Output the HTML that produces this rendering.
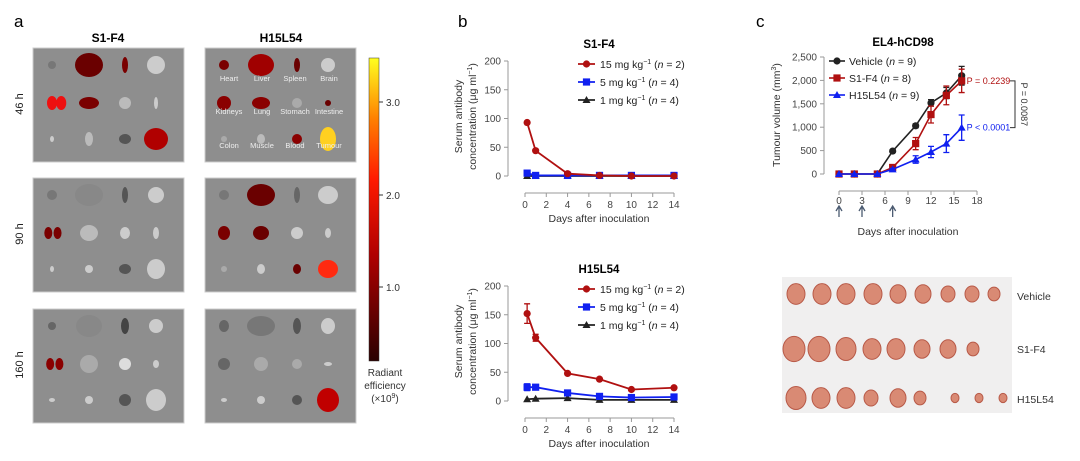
<!DOCTYPE html>
<html><head><meta charset="utf-8"><style>
html,body{margin:0;padding:0;background:#fff;}
svg{display:block;font-family:"Liberation Sans",Arial,sans-serif;}
</style></head><body>
<svg id="fig" width="1080" height="461" viewBox="0 0 1080 461" xmlns="http://www.w3.org/2000/svg">
<defs>
<linearGradient id="cb" x1="0" y1="1" x2="0" y2="0">
<stop offset="0" stop-color="#2a0000"/><stop offset="0.35" stop-color="#b00000"/><stop offset="0.6" stop-color="#ff1a00"/><stop offset="0.8" stop-color="#ff8000"/><stop offset="1" stop-color="#ffff20"/>
</linearGradient>
</defs>
<text x="14" y="27" font-size="17">a</text>
<text x="458" y="27" font-size="17">b</text>
<text x="756" y="27" font-size="17">c</text>
<text x="108" y="42" font-size="12" font-weight="bold" text-anchor="middle">S1-F4</text>
<text x="281" y="42" font-size="12" font-weight="bold" text-anchor="middle">H15L54</text>
<g id="imgs"></g>
<g font-size="11" fill="#222">
<text transform="translate(23,104) rotate(-90)" text-anchor="middle">46 h</text>
<text transform="translate(23,234) rotate(-90)" text-anchor="middle">90 h</text>
<text transform="translate(23,365) rotate(-90)" text-anchor="middle">160 h</text>
</g>
<rect x="369" y="58" width="10" height="303" fill="url(#cb)" stroke="#333" stroke-width="0.5"/>
<g font-size="10" fill="#333">
<line x1="379" y1="102" x2="383" y2="102" stroke="#333"/><text x="386" y="106">3.0</text>
<line x1="379" y1="195" x2="383" y2="195" stroke="#333"/><text x="386" y="199">2.0</text>
<line x1="379" y1="287" x2="383" y2="287" stroke="#333"/><text x="386" y="291">1.0</text>
</g>
<g font-size="10" fill="#333" text-anchor="middle">
<text x="385" y="376">Radiant</text><text x="385" y="389">efficiency</text><text x="385" y="402">(×10<tspan font-size="7" dy="-4">9</tspan><tspan dy="4">)</tspan></text>
</g>
<g id="charts"></g>
<g id="photo"></g>
<g font-size="10.5" fill="#333">
<text x="1017" y="300">Vehicle</text>
<text x="1017" y="353">S1-F4</text>
<text x="1017" y="403">H15L54</text>
</g>
</svg>
<script>
// ---------- Panel b data ----------
const bDays = [0.2, 1, 4, 7, 10, 14];
const bTopHigh = [93, 44, 4, 1, 0, 0];
const bTopMid = [5, 1, 1, 1, 1, 1];
const bTopLow = [0, 0, 0, 0, 0, 0];
const bBotHigh = [152, 110, 48, 38, 20, 23];
const bBotHighErr = [17, 6, 2, 2, 2, 2];
const bBotMid = [24, 24, 14, 8, 6, 7];
const bBotMidErr = [6, 3, 2, 2, 2, 2];
const bBotLow = [3, 4, 5, 2, 2, 2];
const bYTicks = [0, 50, 100, 150, 200];
const bXTicks = [0, 2, 4, 6, 8, 10, 12, 14];
const bLegend = ["15 mg kg", "5 mg kg", "1 mg kg"];
const bLegendN = ["2", "4", "4"];
// ---------- Panel c data ----------
const cDays = [0, 2, 5, 7, 10, 12, 14, 16];
const cVehicle = [0, 0, 0, 490, 1030, 1520, 1730, 2100];
const cVehicleErr = [0, 0, 0, 30, 40, 70, 120, 200];
const cS1F4 = [0, 0, 0, 140, 650, 1270, 1680, 1990];
const cS1F4Err = [0, 0, 0, 40, 130, 180, 200, 250];
const cH15 = [0, 0, 0, 100, 310, 470, 650, 990];
const cH15Err = [0, 0, 0, 20, 80, 120, 190, 270];
const cYTicks = [0, 500, 1000, 1500, 2000, 2500];
const cYTickLabels = ["0", "500", "1,000", "1,500", "2,000", "2,500"];
const cXTicks = [0, 3, 6, 9, 12, 15, 18];
const cLegend = ["Vehicle", "S1-F4", "H15L54"];
const cLegendN = ["9", "8", "9"];
const cDosing = [0, 3, 7];

const NS = "http://www.w3.org/2000/svg";
function mk(tag, attrs, parent, txt) {
  const e = document.createElementNS(NS, tag);
  for (const k in attrs) e.setAttribute(k, attrs[k]);
  if (txt !== undefined) e.textContent = txt;
  parent.appendChild(e);
  return e;
}
const RED = "#b01010", BLUE = "#1020f0", BLK = "#222";
function marker(g, shape, x, y, col) {
  let m;
  if (shape === "c") m = mk("circle", {cx: x, cy: y, r: 3.6, fill: col}, g);
  else if (shape === "s") m = mk("rect", {x: x - 3.6, y: y - 3.6, width: 7.2, height: 7.2, fill: col}, g);
  else m = mk("polygon", {points: `${x},${y - 4} ${x - 4},${y + 3} ${x + 4},${y + 3}`, fill: col}, g);
  return m;
}
const charts = document.getElementById("charts");

function panelB(title, top, series) {
  const g = mk("g", {}, charts);
  
  
  const x0 = 525, x1 = 674, y0 = top + 115, y1 = top;
  const sx = d => x0 + (d / 14) * (x1 - x0);
  const sy = v => y0 - (v / 200) * (y0 - y1);
  const t = mk("text", {x: 599, y: top - 13, "font-size": 11.5, "font-weight": "bold", "text-anchor": "middle"}, g, title);
  
  
  const ya = mk("g", {"font-size": 10, fill: "#444"}, g);
  
  
  mk("line", {x1: 508, y1: sy(0), x2: 508, y2: sy(200), stroke: "#999"}, ya);
  bYTicks.forEach(v => {
    mk("line", {x1: 504, y1: sy(v), x2: 508, y2: sy(v), stroke: "#999"}, ya);
    mk("text", {x: 501, y: sy(v) + 3.5, "text-anchor": "end"}, ya, v);
  });
  const yt = mk("text", {transform: `translate(462,${(y0 + y1) / 2 - 2}) rotate(-90)`, "font-size": 10.5, fill: "#333", "text-anchor": "middle"}, g);
  
  
  mk("tspan", {x: 0, dy: 0}, yt, "Serum antibody");
  mk("tspan", {x: 0, dy: 14}, yt, "concentration (μg ml");
  mk("tspan", {dy: -4, "font-size": 7}, yt, "−1");
  mk("tspan", {dy: 4}, yt, ")");
  const xa = mk("g", {"font-size": 10, fill: "#444"}, g);
  
  
  const ax = y0 + 17;
  mk("line", {x1: sx(0), y1: ax, x2: sx(14), y2: ax, stroke: "#999"}, xa);
  bXTicks.forEach(d => {
    mk("line", {x1: sx(d), y1: ax, x2: sx(d), y2: ax + 4, stroke: "#999"}, xa);
    mk("text", {x: sx(d), y: ax + 15, "text-anchor": "middle"}, xa, d);
  });
  const xt = mk("text", {x: 599, y: ax + 29, "font-size": 10.5, fill: "#333", "text-anchor": "middle"}, g, "Days after inoculation");
  
  
  series.slice().reverse().forEach(s => {
    const sg = mk("g", {}, g);
    
    
    mk("polyline", {points: bDays.map((d, i) => sx(d) + "," + sy(s.v[i])).join(" "), fill: "none", stroke: s.col, "stroke-width": 1.8}, sg);
    bDays.forEach((d, i) => {
      if (s.e && s.e[i] > 2) {
        const x = sx(d);
        mk("path", {d: `M${x},${sy(s.v[i] - s.e[i])}V${sy(s.v[i] + s.e[i])}M${x - 3},${sy(s.v[i] + s.e[i])}h6M${x - 3},${sy(s.v[i] - s.e[i])}h6`, stroke: s.col, "stroke-width": 1.3, fill: "none"}, sg);
      }
      const m = marker(sg, s.shape, sx(d), sy(s.v[i]), s.col);
      
      
    });
  });
  series.forEach((s, i) => {
    const ly = top + 3 + i * 18;
    const lg = mk("g", {"font-size": 10.5, fill: "#222"}, g);
    
    
    mk("line", {x1: 578, y1: ly, x2: 595, y2: ly, stroke: s.col, "stroke-width": 1.8}, lg);
    marker(lg, s.shape, 586.5, ly, s.col);
    const tx = mk("text", {x: 600, y: ly + 4}, lg, bLegend[i]);
    mk("tspan", {dy: -4, "font-size": 7}, tx, "−1");
    mk("tspan", {dy: 4}, tx, " (");
    mk("tspan", {"font-style": "italic"}, tx, "n");
    mk("tspan", {}, tx, " = " + bLegendN[i] + ")");
  });
}
panelB("S1-F4", 61, [
  {key: "15mg", v: bTopHigh, col: RED, shape: "c"},
  {key: "5mg", v: bTopMid, col: BLUE, shape: "s"},
  {key: "1mg", v: bTopLow, col: BLK, shape: "t"}]);
panelB("H15L54", 286, [
  {key: "15mg", v: bBotHigh, e: bBotHighErr, col: RED, shape: "c"},
  {key: "5mg", v: bBotMid, e: bBotMidErr, col: BLUE, shape: "s"},
  {key: "1mg", v: bBotLow, col: BLK, shape: "t"}]);

// ---------- Panel c ----------
(function () {
  const g = mk("g", {}, charts);
  
  
  const x0 = 839, x1 = 977, y0 = 174, y1 = 57;
  const sx = d => x0 + (d / 18) * (x1 - x0);
  const sy = v => y0 - (v / 2500) * (y0 - y1);
  const t = mk("text", {x: 903, y: 46, "font-size": 11.5, "font-weight": "bold", "text-anchor": "middle"}, g, "EL4-hCD98");
  
  
  const ya = mk("g", {"font-size": 10, fill: "#444"}, g);
  
  
  mk("line", {x1: 824, y1: sy(0), x2: 824, y2: sy(2500), stroke: "#999"}, ya);
  cYTicks.forEach((v, i) => {
    mk("line", {x1: 820, y1: sy(v), x2: 824, y2: sy(v), stroke: "#999"}, ya);
    mk("text", {x: 817, y: sy(v) + 3.5, "text-anchor": "end"}, ya, cYTickLabels[i]);
  });
  const yt = mk("text", {transform: `translate(780,115) rotate(-90)`, "font-size": 10.5, fill: "#333", "text-anchor": "middle"}, g, "Tumour volume (mm");
  
  
  mk("tspan", {dy: -4, "font-size": 7}, yt, "3");
  mk("tspan", {dy: 4}, yt, ")");
  const xa = mk("g", {"font-size": 10, fill: "#444"}, g);
  
  
  const ax = 191;
  mk("line", {x1: sx(0), y1: ax, x2: sx(18), y2: ax, stroke: "#999"}, xa);
  cXTicks.forEach(d => {
    mk("line", {x1: sx(d), y1: ax, x2: sx(d), y2: ax + 4, stroke: "#999"}, xa);
    mk("text", {x: sx(d), y: ax + 13, "text-anchor": "middle"}, xa, d);
  });
  cDosing.forEach(d => {
    const a = mk("path", {d: `M${sx(d)},${ax + 26}V${ax + 16}M${sx(d) - 3},${ax + 20}L${sx(d)},${ax + 15}L${sx(d) + 3},${ax + 20}`, stroke: "#4a5a70", "stroke-width": 1.3, fill: "none"}, xa);
    
    
  });
  const xt = mk("text", {x: 908, y: 235, "font-size": 10.5, fill: "#333", "text-anchor": "middle"}, g, "Days after inoculation");
  
  
  const series = [
    {key: "vehicle", v: cVehicle, e: cVehicleErr, col: BLK, shape: "c"},
    {key: "s1f4", v: cS1F4, e: cS1F4Err, col: RED, shape: "s"},
    {key: "h15l54", v: cH15, e: cH15Err, col: BLUE, shape: "t"}];
  series.forEach(s => {
    const sg = mk("g", {}, g);
    
    
    mk("polyline", {points: cDays.map((d, i) => sx(d) + "," + sy(s.v[i])).join(" "), fill: "none", stroke: s.col, "stroke-width": 1.6}, sg);
    cDays.forEach((d, i) => {
      if (s.e[i] > 0) {
        const x = sx(d);
        mk("path", {d: `M${x},${sy(s.v[i] - s.e[i])}V${sy(s.v[i] + s.e[i])}M${x - 3},${sy(s.v[i] + s.e[i])}h6M${x - 3},${sy(s.v[i] - s.e[i])}h6`, stroke: s.col, "stroke-width": 1.3, fill: "none"}, sg);
      }
      const m = marker(sg, s.shape, sx(d), sy(s.v[i]), s.col);
      
      
    });
  });
  series.forEach((s, i) => {
    const ly = 61 + i * 17;
    const lg = mk("g", {"font-size": 10.5, fill: "#222"}, g);
    
    
    mk("line", {x1: 829, y1: ly, x2: 845, y2: ly, stroke: s.col, "stroke-width": 1.6}, lg);
    marker(lg, s.shape, 837, ly, s.col);
    const tx = mk("text", {x: 849, y: ly + 4}, lg, cLegend[i] + " (");
    mk("tspan", {"font-style": "italic"}, tx, "n");
    mk("tspan", {}, tx, " = " + cLegendN[i] + ")");
  });
  const last = cDays.length - 1;
  const p1 = mk("text", {x: sx(cDays[last]) + 5, y: sy(cS1F4[last]) + 3, "font-size": 9, fill: RED}, g, "P = 0.2239");
  
  
  const p2 = mk("text", {x: sx(cDays[last]) + 5, y: sy(cH15[last]) + 3, "font-size": 9, fill: BLUE}, g, "P < 0.0001");
  
  
  const br = mk("path", {d: `M1010,${sy(cS1F4[last])}H1015V${sy(cH15[last])}H1010`, stroke: "#333", fill: "none", "stroke-width": 1}, g);
  
  
  const p3 = mk("text", {transform: `translate(1021,${(sy(cS1F4[last]) + sy(cH15[last])) / 2}) rotate(90)`, "font-size": 9, fill: "#333", "text-anchor": "middle"}, g, "P = 0.0087");
  
  
})();

// ---------- Panel a images ----------
const imgs = document.getElementById("imgs");
const boxes = [[33, 48], [205, 48], [33, 178], [205, 178], [33, 309], [205, 309]];
const cols = [19, 56, 92, 123], rows = [17, 55, 91];
const organs = [
  [[0,0,4,4,"#777"],[1,0,14,12,"#6a0000"],[2,0,3,8,"#7a0000"],[3,0,9,9,"#ccc"],[0,1,5,7,"#ee1010"],[0.25,1,5,7,"#ee1010"],[1,1,10,6,"#7a0000"],[2,1,6,6,"#bbb"],[3,1,2,6,"#ccc"],[0,2,2,3,"#ccc"],[1,2,4,7,"#bbb"],[2,2,6,5,"#555"],[3,2,12,11,"#b00000"]],
  [[0,0,5,5,"#7a0000"],[1,0,13,11,"#a00000"],[2,0,3,7,"#6a0000"],[3,0,7,7,"#ccc"],[0,1,7,7,"#8a0000"],[1,1,9,6,"#8a0000"],[2,1,5,5,"#aaa"],[3,1,3,3,"#6a0000"],[0,2,3,3,"#aaa"],[1,2,4,5,"#bbb"],[2,2,5,5,"#8a0000"],[3,2,8,12,"#ffd020"]],
  [[0,0,5,5,"#777"],[1,0,14,11,"#888"],[2,0,3,8,"#555"],[3,0,8,8,"#ccc"],[-0.1,1,4,6,"#7a0000"],[0.15,1,4,6,"#7a0000"],[1,1,9,8,"#bbb"],[2,1,5,6,"#ccc"],[3,1,3,6,"#ccc"],[0,2,2,3,"#ccc"],[1,2,4,4,"#ccc"],[2,2,6,5,"#555"],[3,2,9,10,"#ccc"]],
  [[0,0,5,5,"#777"],[1,0,14,11,"#6a0000"],[2,0,3,8,"#666"],[3,0,10,9,"#ccc"],[0,1,6,7,"#7a0000"],[1,1,8,7,"#6a0000"],[2,1,6,6,"#ccc"],[3,1,3,5,"#ccc"],[0,2,3,3,"#aaa"],[1,2,4,5,"#ccc"],[2,2,4,5,"#6a0000"],[3,2,10,9,"#ff2a10"]],
  [[0,0,4,4,"#666"],[1,0,13,11,"#888"],[2,0,4,8,"#444"],[3,0,7,7,"#ccc"],[-0.05,1,4,6,"#8a0000"],[0.2,1,4,6,"#8a0000"],[1,1,9,9,"#aaa"],[2,1,6,6,"#ddd"],[3,1,3,4,"#ccc"],[0,2,3,2,"#ccc"],[1,2,4,4,"#ccc"],[2,2,6,6,"#555"],[3,2,10,11,"#ccc"]],
  [[0,0,5,6,"#666"],[1,0,14,10,"#777"],[2,0,4,8,"#555"],[3,0,7,8,"#ccc"],[0,1,6,6,"#666"],[1,1,7,7,"#aaa"],[2,1,5,5,"#aaa"],[3,1,4,2,"#ccc"],[0,2,3,2,"#ccc"],[1,2,4,4,"#ccc"],[2,2,5,5,"#555"],[3,2,11,12,"#c00000"]]
];
const names = ["s1f4-46h","h15l54-46h","s1f4-90h","h15l54-90h","s1f4-160h","h15l54-160h"];
boxes.forEach((b, k) => {
  const g = mk("g", {}, imgs);
  
  
  mk("rect", {x: b[0], y: b[1], width: 151, height: 114, fill: "#8e8e8e", stroke: "#ccc", "stroke-width": 1}, g);
  organs[k].forEach(o => {
    const cx = b[0] + cols[0] + o[0] * (cols[1] - cols[0]);
    const xx = Number.isInteger(o[0]) ? b[0] + cols[o[0]] : cx;
    mk("ellipse", {cx: xx, cy: b[1] + rows[o[1]], rx: o[2], ry: o[3], fill: o[4]}, g);
  });
});
const lbl = mk("g", {"font-size": 7.5, fill: "#eee", "text-anchor": "middle"}, imgs);


[["Heart","Liver","Spleen","Brain"],["Kidneys","Lung","Stomach","Intestine"],["Colon","Muscle","Blood","Tumour"]].forEach((r, ri) => {
  r.forEach((n, ci) => mk("text", {x: 205 + [24, 57, 90, 124][ci], y: 48 + [33, 66, 100][ri]}, lbl, n));
});

// ---------- tumour photo ----------
const photo = document.getElementById("photo");
mk("rect", {x: 782, y: 277, width: 230, height: 136, fill: "#f0efef"}, photo);
const tumRows = [
  {y: 294, xs: [796, 822, 846, 873, 898, 923, 948, 972, 994], r: [9, 9, 9, 9, 8, 8, 7, 7, 6]},
  {y: 349, xs: [794, 819, 846, 872, 896, 922, 948, 973], r: [11, 11, 10, 9, 9, 8, 8, 6]},
  {y: 398, xs: [796, 821, 846, 871, 898, 920, 955, 979, 1003], r: [10, 9, 9, 7, 8, 6, 4, 4, 4]}
];
tumRows.forEach(row => row.xs.forEach((x, i) => {
  const e = mk("ellipse", {cx: x, cy: row.y, rx: row.r[i], ry: row.r[i] * 1.15, fill: "#d98a74", stroke: "#b85a48", "stroke-width": 1}, photo);
  
  
}));
</script>
</body></html>
